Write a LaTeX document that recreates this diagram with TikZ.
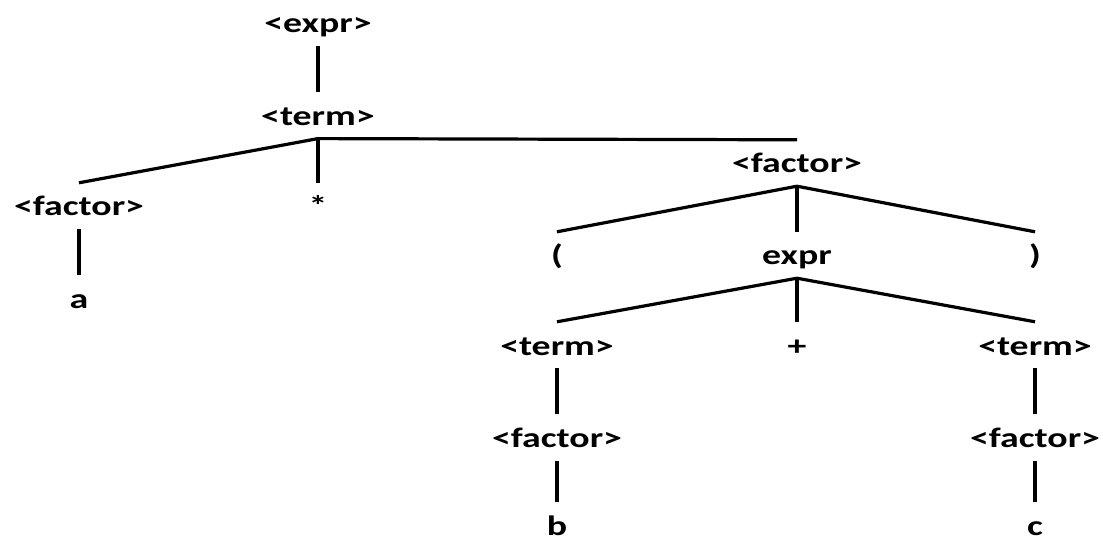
\documentclass[tikz,border=0pt]{standalone}
\usepackage{fontspec}
\setmainfont{Carlito}[FakeStretch=1.35]
\usetikzlibrary{positioning}

\begin{document}
\begin{tikzpicture}[
      x=1pt, y=-1pt,
      node distance=46pt,
      sym/.style={font=\fontsize{28}{32}\selectfont\bfseries,
                  text height=25pt, text depth=5pt,
                  inner xsep=2pt, inner ysep=8pt, anchor=base},
      leaf/.style={sym, text height=29pt, text depth=0pt, inner ysep=4pt},
      edge/.style={line width=3.2pt}
    ]
    \useasboundingbox (0,0) rectangle (1103,540);
    % top part
    \node[sym] (expr0) at (318,33) {<expr>};
    \node[sym, below=of expr0] (term0) {<term>};
    \node[sym] (facA) at (79,216) {<factor>};
    \node[sym] (star) at (318,216) {*};
    \node[sym, below=of facA] (a) {a};
    \node[sym] (facR) at (797,173) {<factor>};
    % right factor: ( expr )
    \node[sym] (lpar) at (557,265) {(};
    \node[sym] (expr1) at (797,265) {expr};
    \node[sym] (rpar) at (1035,265) {)};
    \node[sym] (termL) at (557,355) {<term>};
    \node[sym] (plus) at (797,355) {+};
    \node[sym] (termR) at (1035,355) {<term>};
    \node[sym, below=of termL] (facL) {<factor>};
    \node[sym, below=of termR] (facRR) {<factor>};
    \node[leaf] (b) at (557,535) {b};
    \node[leaf] (c) at (1035,535) {c};

    \draw[edge] (expr0.south) -- (term0.north);
    \draw[edge] (term0.south) -- (facA.north);
    \draw[edge] (term0.south) -- (star.north);
    \draw[edge] (term0.south) -- (facR.north);
    \draw[edge] (facA.south) -- (a.north);
    \draw[edge] (facR.south) -- (lpar.north);
    \draw[edge] (facR.south) -- (expr1.north);
    \draw[edge] (facR.south) -- (rpar.north);
    \draw[edge] (expr1.south) -- (termL.north);
    \draw[edge] (expr1.south) -- (plus.north);
    \draw[edge] (expr1.south) -- (termR.north);
    \draw[edge] (termL.south) -- (facL.north);
    \draw[edge] (facL.south) -- (b.north);
    \draw[edge] (termR.south) -- (facRR.north);
    \draw[edge] (facRR.south) -- (c.north);
\end{tikzpicture}
\end{document}
